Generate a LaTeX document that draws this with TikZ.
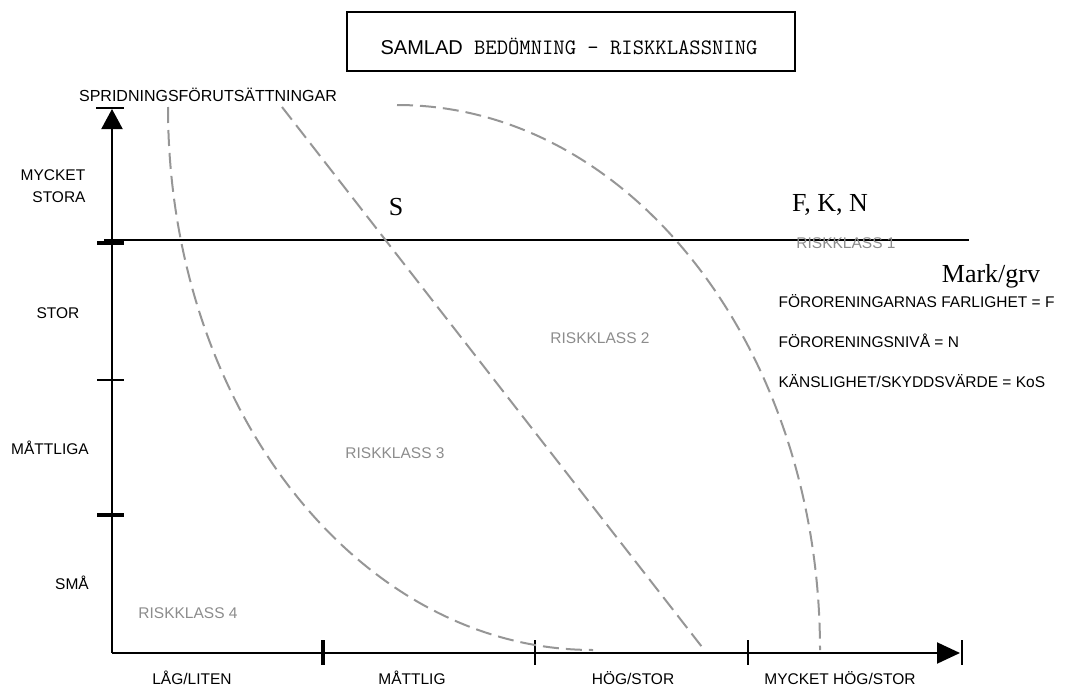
\documentclass[tikz,border=0pt]{standalone}
\usepackage{fontspec}
\setmainfont{Liberation Sans}
\newfontfamily\romanfont{Liberation Serif}
\usetikzlibrary{arrows.meta}
\definecolor{klassgray}{RGB}{140,140,140}
\definecolor{gransgray}{RGB}{150,150,150}

\begin{document}
\begin{tikzpicture}[x=1pt, y=-1pt,
    every node/.style={font=\fontsize{15.5}{18}\selectfont},
    klass/.style={text=klassgray},
    big/.style={font=\romanfont\fontsize{26}{30}\selectfont},
    grans/.style={draw=gransgray, line width=2pt, dash pattern=on 16pt off 7pt}]
  \useasboundingbox (0,0) rectangle (1066,688);
  \draw [line width=1.2pt] (347,12) rectangle (795,71);
  \node (title) at (569,46) {\fontsize{20}{24}\selectfont SAMLAD{\ttfamily\fontsize{22}{24}\selectfont{} BEDÖMNING - RISKKLASSNING}};
  \draw [line width=2pt, -{Triangle[length=20pt, width=21pt]}] (112,653) -- (112,109);
  \draw [line width=1.5pt] (96,108) -- (124,108);
  \draw [line width=2pt, -{Triangle[length=23pt, width=21pt]}] (112,653) -- (960,653);
  \draw [line width=1.5pt] (962,640) -- (962,665);
  \draw [line width=1.5pt] (104,240) -- (969,240);
  \foreach \y/\w in {243/4pt, 380/1.5pt, 515/4pt}
    \draw [line width=\w] (97,\y) -- (124,\y);
  \foreach \x/\w in {323/4pt, 535/1.5pt, 748/1.5pt}
    \draw [line width=\w] (\x,640) -- (\x,665);
  \draw [grans] (168,107) arc[start angle=180, end angle=90, x radius=425, y radius=543];
  \draw [grans] (282,107) -- (702,647);
  \draw [grans] (397,105) arc[start angle=270, end angle=360, x radius=423, y radius=545];
  \node [font=\fontsize{16}{18}\selectfont] (spridning) at (208,95) {SPRIDNINGSFÖRUTSÄTTNINGAR};
  \node (mycket) at (53,175) {MYCKET};
  \node (stora) at (59,197) {STORA};
  \node (stor) at (58,313) {STOR};
  \node (mattliga) at (50,448) {MÅTTLIGA};
  \node (sma) at (72,583) {SMÅ};
  \node (lag) at (192,678) {LÅG/LITEN};
  \node (mattlig) at (412,678) {MÅTTLIG};
  \node (hog) at (633,678) {HÖG/STOR};
  \node (mhog) at (840,678) {MYCKET HÖG/STOR};
  \node [klass] (klass1) at (846,243) {RISKKLASS 1};
  \node [klass] (klass2) at (600,338) {RISKKLASS 2};
  \node [klass] (klass3) at (395,453) {RISKKLASS 3};
  \node [klass] (klass4) at (188,613) {RISKKLASS 4};
  \node [big] (s) at (396,207) {S};
  \node [big] (fkn) at (830,205) {F, K, N};
  \node [big] (mark) at (991,276) {Mark/grv};
  \node [anchor=west] (farlighet) at (775,301) {FÖRORENINGARNAS FARLIGHET = F};
  \node [anchor=west] (niva) at (775,341) {FÖRORENINGSNIVÅ = N};
  \node [anchor=west] (kos) at (775,381) {KÄNSLIGHET/SKYDDSVÄRDE = KoS};
\end{tikzpicture}
\end{document}
